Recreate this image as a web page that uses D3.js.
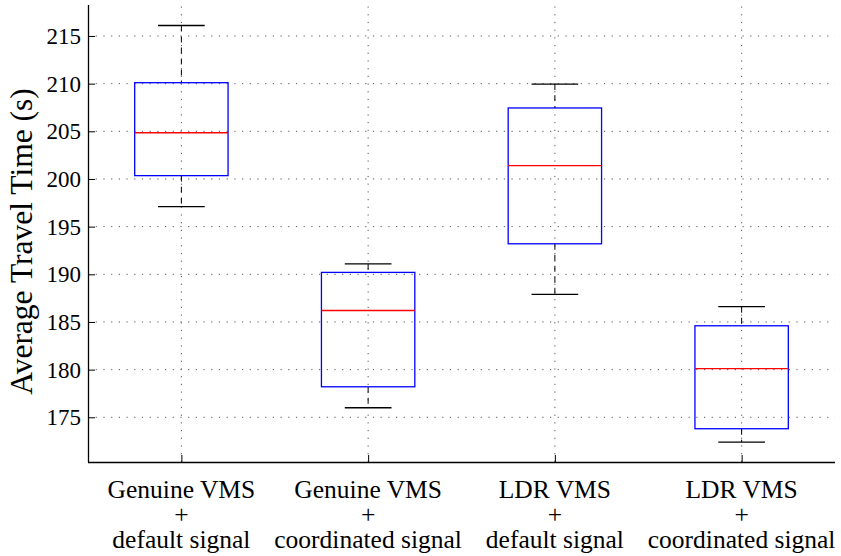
<!DOCTYPE html>
<html>
<head>
<meta charset="utf-8">
<script src="https://cdn.jsdelivr.net/npm/d3@7"></script>
<style>
  body { margin: 0; background: #fff; }
  svg text { font-family: "Liberation Serif", "Times New Roman", serif; fill: #000; }
</style>
</head>
<body>
<div id="boxChart"></div>
<script>
// categories (each label is three lines)
const categories = [
  ["Genuine VMS", "+", "default signal"],
  ["Genuine VMS", "+", "coordinated signal"],
  ["LDR VMS", "+", "default signal"],
  ["LDR VMS", "+", "coordinated signal"],
];
const lowerWhisker = [197.1, 176.0, 187.9, 172.4];
const q1 = [200.35, 178.2, 193.2, 173.8];
const median = [204.85, 186.2, 201.4, 180.1];
const q3 = [210.1, 190.2, 207.45, 184.6];
const upperWhisker = [216.1, 191.1, 209.95, 186.6];
const yTicks = [175, 180, 185, 190, 195, 200, 205, 210, 215];

var boxChart = {
  width: 841,
  height: 556,
  top: 5,
  right: 6,
  bottom: 94,
  left: 88,
};

const svg = d3
  .select("#boxChart")
  .append("svg")
  .attr("width", boxChart.width)
  .attr("height", boxChart.height)
  .attr("font-family", "Liberation Serif, Times New Roman, serif");

var x = d3
  .scaleLinear()
  .domain([0.5, 4.5])
  .range([boxChart.left, boxChart.width - boxChart.right]);

var y = d3
  .scaleLinear()
  .domain([170.31, 218.25])
  .range([boxChart.height - boxChart.bottom, boxChart.top]);

const x0 = x.range()[0], x1 = x.range()[1];
const y0 = y.range()[0], y1 = y.range()[1];

/* dotted grid */
const grid = svg.append("g")
  .attr("stroke", "#555")
  .attr("stroke-width", 1)
  .attr("stroke-dasharray", "1.2,6.5");

grid.selectAll(".hgrid")
  .data(yTicks)
  .join("line")
  .attr("x1", x0).attr("x2", x1)
  .attr("y1", (d) => y(d)).attr("y2", (d) => y(d));

grid.selectAll(".vgrid")
  .data(categories)
  .join("line")
  .attr("x1", (d, i) => x(i + 1)).attr("x2", (d, i) => x(i + 1))
  .attr("y1", y0).attr("y2", y1);

/* axes */
var yAxis = (g) =>
  g
    .attr("transform", `translate(${x0}, 0)`)
    .call(d3.axisLeft(y).tickValues(yTicks).tickSize(-7).tickPadding(7).tickFormat((d) => d));

var xAxis = (g) =>
  g
    .attr("transform", `translate(0, ${y0})`)
    .call(d3.axisBottom(x).tickValues([1, 2, 3, 4]).tickSize(-7).tickFormat(""));

svg.append("g").call(yAxis)
  .attr("font-family", "Liberation Serif, Times New Roman, serif")
  .call((g) => g.select(".domain").attr("d", `M0.5,${y1}V${y0}`).attr("stroke", "#000").attr("stroke-width", 1.3))
  .call((g) => g.selectAll(".tick text").attr("font-size", 23).attr("fill", "#000"));

svg.append("g").call(xAxis)
  .call((g) => g.select(".domain").attr("d", `M${x0},0.5H${x1}`).attr("stroke", "#000").attr("stroke-width", 1.3));

/* category labels */
const labels = svg.append("g")
  .attr("text-anchor", "middle")
  .attr("font-size", 25.5);

categories.forEach((lines, i) => {
  lines.forEach((line, j) => {
    labels.append("text")
      .attr("x", x(i + 1))
      .attr("y", y0 + 36 + j * 25)
      .text(line);
  });
});

/* y label */
svg.append("text")
  .attr("transform", `translate(32, ${(y0 + y1) / 2 + 8}) rotate(-90)`)
  .attr("text-anchor", "middle")
  .attr("font-size", 31.5)
  .text("Average Travel Time (s)");

/* boxes */
const boxW = 0.5, capW = 0.25;
const boxes = svg.append("g");

categories.forEach((c, i) => {
  const cx = x(i + 1);
  const g = boxes.append("g");

  // whiskers
  g.append("line")
    .attr("x1", cx).attr("x2", cx)
    .attr("y1", y(upperWhisker[i])).attr("y2", y(q3[i]))
    .attr("stroke", "#000").attr("stroke-width", 1)
    .attr("stroke-dasharray", "6,5");
  g.append("line")
    .attr("x1", cx).attr("x2", cx)
    .attr("y1", y(q1[i])).attr("y2", y(lowerWhisker[i]))
    .attr("stroke", "#000").attr("stroke-width", 1)
    .attr("stroke-dasharray", "6,5");

  // caps
  [upperWhisker[i], lowerWhisker[i]].forEach((v) => {
    g.append("line")
      .attr("x1", x(i + 1 - capW / 2)).attr("x2", x(i + 1 + capW / 2))
      .attr("y1", y(v)).attr("y2", y(v))
      .attr("stroke", "#000").attr("stroke-width", 1.3);
  });

  // box
  g.append("rect")
    .attr("x", x(i + 1 - boxW / 2))
    .attr("y", y(q3[i]))
    .attr("width", x(i + 1 + boxW / 2) - x(i + 1 - boxW / 2))
    .attr("height", y(q1[i]) - y(q3[i]))
    .attr("fill", "none")
    .attr("stroke", "#0000ff")
    .attr("stroke-width", 1.3);

  // median
  g.append("line")
    .attr("x1", x(i + 1 - boxW / 2)).attr("x2", x(i + 1 + boxW / 2))
    .attr("y1", y(median[i])).attr("y2", y(median[i]))
    .attr("stroke", "#ff0000").attr("stroke-width", 1.3);
});
</script>
</body>
</html>
